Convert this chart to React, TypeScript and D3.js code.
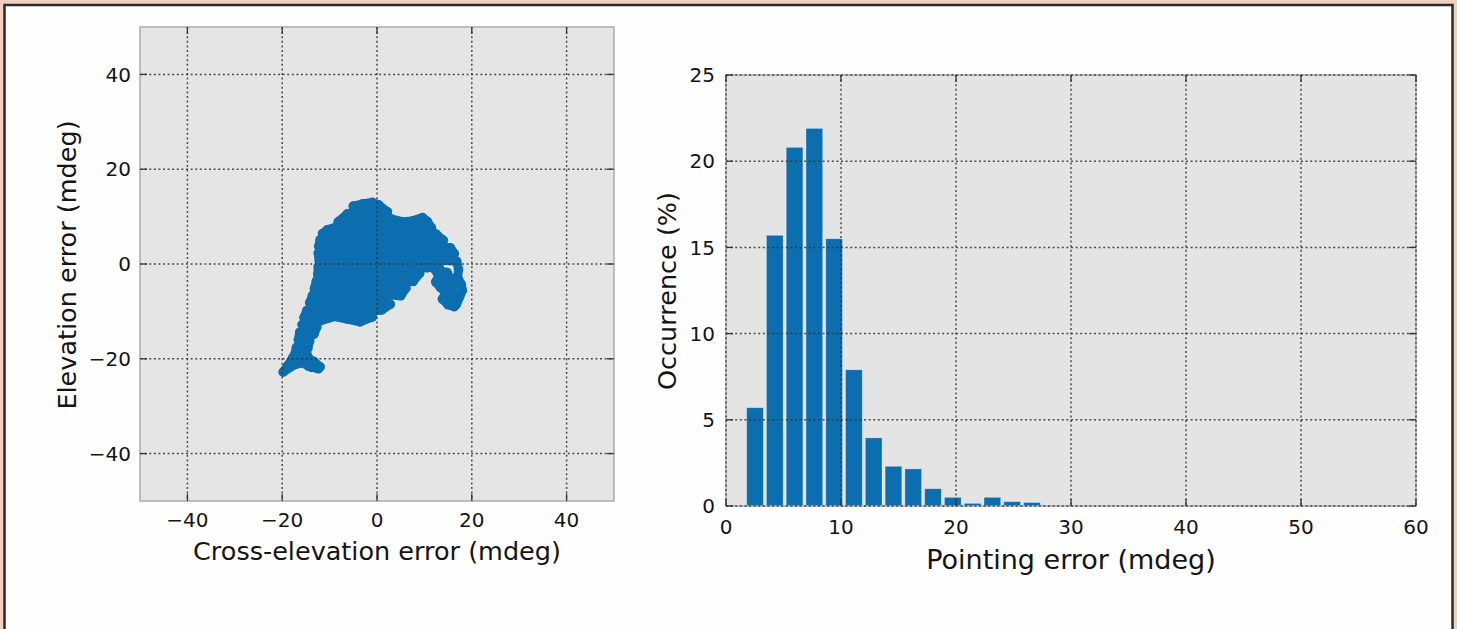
import React, { useEffect, useRef } from "react";
import * as d3 from "d3";

// pointing trace: [cross-elevation, elevation] in mdeg
const tracePoints: [number, number][] = [
  [-5, 12.2], [-3, 12.7], [-1, 13.0], [0.3, 12.5],
  [2.2, 11.0], [0, 11.0], [-3, 11.3], [-6.2, 10.6],
  [-8.2, 8.9], [-5, 9.6], [-1, 9.7], [3, 9.5], [5.5, 8.9], [7.5, 9.1], [9.6, 9.8], [10.6, 9.0],
  [11.5, 7.6], [8, 8.1], [4, 8.1], [0, 8.4], [-4, 8.2], [-8, 8.0], [-10.5, 7.2],
  [-11.5, 6.4], [-8, 6.9], [-4, 6.6], [0, 6.9], [4, 6.7], [8, 6.9], [12.5, 6.3],
  [14, 5.0], [10, 5.4], [5, 5.2], [0, 5.4], [-5, 5.2], [-9, 5.4], [-12.0, 5.1],
  [-12.3, 3.7], [-8, 3.9], [-3, 3.7], [2, 3.9], [7, 3.7], [12, 3.9], [15.5, 3.4],
  [16.3, 2.2], [12, 2.4], [6, 2.2], [0, 2.4], [-5, 2.2], [-9, 2.4], [-12.4, 2.3],
  [-12.2, 0.7], [-8, 0.9], [-3, 0.7], [2, 0.9], [7, 0.7], [12, 0.9], [16.8, 0.6],
  [17.2, -1.2], [17.0, -2.8], [17.8, -4.3], [18.0, -5.6], [17.4, -7], [16.8, -8.4], [16.3, -9.0],
  [15, -8.6], [13.8, -7.4], [14.5, -6], [13.4, -5], [12.4, -3.8], [13, -2.5], [12.3, -1.3],
  [14.8, -1.8], [15.6, -3.3], [16, -5], [15.8, -7],
  [13, -0.3], [10.6, -0.8], [6, -0.5], [1, -0.8], [-4, -0.6], [-9, -0.8], [-12.4, -0.6],
  [-12.5, -2.2], [-8, -2.0], [-3, -2.3], [2, -2.1], [6, -2.3], [9.0, -2.0],
  [7.6, -3.7], [4, -3.5], [0, -3.8], [-5, -3.6], [-9, -3.8], [-12.8, -3.6],
  [-13.2, -5.2], [-9, -5.0], [-4, -5.3], [0, -5.1], [3.5, -5.3], [6.1, -5.1],
  [5.0, -6.7], [2, -6.5], [-2, -6.8], [-6, -6.6], [-10, -6.8], [-13.6, -6.6],
  [-14.2, -8.2], [-11, -8.0], [-7, -8.3], [-3, -8.1], [0, -8.3], [2.8, -8.5],
  [1, -9.7], [-1, -10.0], [-4, -9.6], [-8, -9.9], [-12, -9.7], [-14.8, -9.8],
  [-15.4, -11.3], [-12.5, -11.0], [-9.5, -11.0], [-6.3, -11.6], [-3.6, -12.2], [-1, -11.2],
  [-7, -10.5], [-12, -12], [-15.8, -12.8], [-12.7, -13.3], [-13.3, -14.8], [-16.3, -14.4],
  [-16.6, -16], [-14.2, -16.2], [-14.6, -17.8], [-17.0, -17.6], [-17.4, -19.2], [-14.8, -19.0],
  [-14.5, -19.8], [-13.3, -20.6], [-12.0, -21.7], [-13.8, -21.8], [-15.5, -20.8], [-17.5, -21.3],
  [-19.8, -22.8], [-18.8, -21.4], [-17.8, -19.8], [-16.4, -20.4], [-14.4, -21.6], [-12.4, -22.1],
];
const scatterTicks = [-40, -20, 0, 20, 40];

// histogram of pointing error
const binStarts = [1.8, 3.52, 5.24, 6.96, 8.68, 10.4, 12.12, 13.84, 15.56, 17.28, 19.0, 20.72, 22.44, 24.16, 25.88];
const occurrence = [5.7, 15.7, 20.8, 21.9, 15.5, 7.9, 3.95, 2.3, 2.15, 1.0, 0.5, 0.15, 0.5, 0.25, 0.2];
const binWidth = 1.72;
const histXTicks = [0, 10, 20, 30, 40, 50, 60];
const histYTicks = [0, 5, 10, 15, 20, 25];

const FONT = "DejaVu Sans";
const BLUE = "#0c6eae";
const INK = "#141414";

const App = () => {
  const ref = useRef<SVGSVGElement>(null);

  useEffect(() => {
    const svg = d3.select(ref.current);
    svg.selectAll("*").remove();

    // page frame
    svg.append("rect").attr("width", 1457).attr("height", 629).attr("fill", "#eecfc0");
    svg.append("rect")
      .attr("x", 4.5).attr("y", 5).attr("width", 1448).attr("height", 640)
      .attr("fill", "#fefefe").attr("stroke", "#2b2b2b").attr("stroke-width", 2.5);

    const gridStyle = (sel) =>
      sel.attr("stroke", "#333").attr("stroke-width", 1.5)
        .attr("stroke-dasharray", "2,2.6").attr("opacity", 0.85);

    const label = (sel, size) =>
      sel.style("font-family", FONT).style("font-size", size).style("fill", INK);

    // ---------- scatter ----------
    const x = d3.scaleLinear().domain([-50, 50]).range([140, 614]);
    const y = d3.scaleLinear().domain([-50, 50]).range([501, 27]);

    svg.append("rect")
      .attr("x", 140).attr("y", 27).attr("width", 474).attr("height", 474)
      .attr("fill", "#e5e5e5");

    const trace = d3.line<[number, number]>().x((d) => x(d[0])).y((d) => y(d[1]));
    svg.append("path")
      .datum(tracePoints)
      .attr("d", trace)
      .attr("fill", "none")
      .attr("stroke", BLUE)
      .attr("stroke-width", 9)
      .attr("stroke-linejoin", "round")
      .attr("stroke-linecap", "round");
    svg.append("g")
      .selectAll("circle")
      .data(tracePoints)
      .join("circle")
      .attr("cx", (d) => x(d[0]))
      .attr("cy", (d) => y(d[1]))
      .attr("r", 4.8)
      .attr("fill", BLUE);

    const sg = svg.append("g");
    scatterTicks.forEach((t) => {
      gridStyle(sg.append("line").attr("x1", x(t)).attr("x2", x(t)).attr("y1", 27).attr("y2", 501));
      gridStyle(sg.append("line").attr("y1", y(t)).attr("y2", y(t)).attr("x1", 140).attr("x2", 614));
    });

    svg.append("rect")
      .attr("x", 140).attr("y", 27).attr("width", 474).attr("height", 474)
      .attr("fill", "none").attr("stroke", "#ababab").attr("stroke-width", 1.5);

    scatterTicks.forEach((t) => {
      svg.append("line").attr("x1", x(t)).attr("x2", x(t)).attr("y1", 501).attr("y2", 494).attr("stroke", "#333").attr("stroke-width", 1.3);
      svg.append("line").attr("x1", x(t)).attr("x2", x(t)).attr("y1", 27).attr("y2", 34).attr("stroke", "#333").attr("stroke-width", 1.3);
      svg.append("line").attr("y1", y(t)).attr("y2", y(t)).attr("x1", 140).attr("x2", 147).attr("stroke", "#333").attr("stroke-width", 1.3);
      svg.append("line").attr("y1", y(t)).attr("y2", y(t)).attr("x1", 614).attr("x2", 607).attr("stroke", "#333").attr("stroke-width", 1.3);

      label(svg.append("text")
        .attr("x", x(t)).attr("y", 527)
        .attr("text-anchor", "middle"), "20px")
        .text(t < 0 ? `\u2212${-t}` : `${t}`);
      label(svg.append("text")
        .attr("x", 131).attr("y", y(t)).attr("dy", "0.36em")
        .attr("text-anchor", "end"), "20px")
        .text(t < 0 ? `\u2212${-t}` : `${t}`);
    });

    label(svg.append("text")
      .attr("x", 377).attr("y", 560)
      .attr("text-anchor", "middle"), "25.5px")
      .text("Cross-elevation error (mdeg)");
    label(svg.append("text")
      .attr("transform", `translate(76,265) rotate(-90)`)
      .attr("text-anchor", "middle"), "25.5px")
      .text("Elevation error (mdeg)");

    // ---------- histogram ----------
    const hx = d3.scaleLinear().domain([0, 60]).range([726, 1416]);
    const hy = d3.scaleLinear().domain([0, 25]).range([506, 75]);

    svg.append("rect")
      .attr("x", 726).attr("y", 75).attr("width", 690).attr("height", 431)
      .attr("fill", "#e4e4e4");

    svg.append("g")
      .selectAll("rect")
      .data(occurrence)
      .join("rect")
      .attr("x", (d, i) => hx(binStarts[i]))
      .attr("width", (d, i) => hx(binStarts[i] + binWidth * 0.84) - hx(binStarts[i]))
      .attr("y", (d) => hy(d))
      .attr("height", (d) => hy(0) - hy(d))
      .attr("fill", BLUE)
      .attr("stroke", "rgba(255,255,255,0.3)")
      .attr("stroke-width", 0.8);

    svg.append("rect")
      .attr("x", 726).attr("y", 75).attr("width", 690).attr("height", 431)
      .attr("fill", "none").attr("stroke", "#ababab").attr("stroke-width", 1.5);

    const hg = svg.append("g");
    histXTicks.forEach((t) => {
      gridStyle(hg.append("line").attr("x1", hx(t)).attr("x2", hx(t)).attr("y1", 75).attr("y2", 506));
    });
    histYTicks.forEach((t) => {
      gridStyle(hg.append("line").attr("y1", hy(t)).attr("y2", hy(t)).attr("x1", 726).attr("x2", 1416));
    });

    histXTicks.forEach((t) => {
      svg.append("line").attr("x1", hx(t)).attr("x2", hx(t)).attr("y1", 506).attr("y2", 499).attr("stroke", "#333").attr("stroke-width", 1.3);
      svg.append("line").attr("x1", hx(t)).attr("x2", hx(t)).attr("y1", 75).attr("y2", 82).attr("stroke", "#333").attr("stroke-width", 1.3);
      label(svg.append("text")
        .attr("x", hx(t)).attr("y", 534)
        .attr("text-anchor", "middle"), "20px")
        .text(`${t}`);
    });
    histYTicks.forEach((t) => {
      svg.append("line").attr("y1", hy(t)).attr("y2", hy(t)).attr("x1", 726).attr("x2", 733).attr("stroke", "#333").attr("stroke-width", 1.3);
      svg.append("line").attr("y1", hy(t)).attr("y2", hy(t)).attr("x1", 1416).attr("x2", 1409).attr("stroke", "#333").attr("stroke-width", 1.3);
      label(svg.append("text")
        .attr("x", 715).attr("y", hy(t)).attr("dy", "0.36em")
        .attr("text-anchor", "end"), "20px")
        .text(`${t}`);
    });

    label(svg.append("text")
      .attr("x", 1071).attr("y", 569)
      .attr("text-anchor", "middle"), "27px")
      .text("Pointing error (mdeg)");
    label(svg.append("text")
      .attr("transform", `translate(676,291) rotate(-90)`)
      .attr("text-anchor", "middle"), "25.5px")
      .text("Occurrence (%)");
  }, []);

  return (
    <svg ref={ref} width={1457} height={629} style={{ position: "absolute", left: 0, top: 0 }} />
  );
};

export default App;
